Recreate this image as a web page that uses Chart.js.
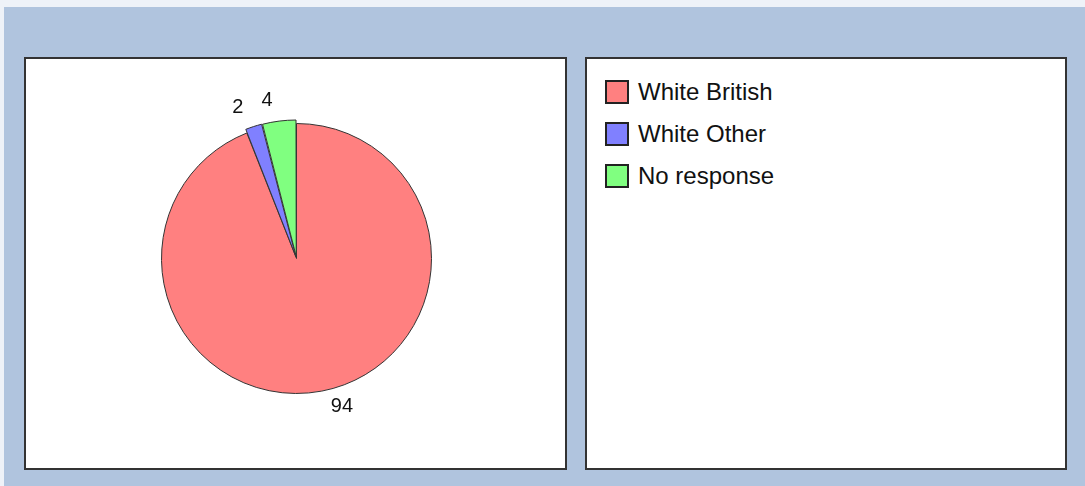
<!DOCTYPE html>
<html>
<head>
<meta charset="utf-8">
<script src="https://cdn.jsdelivr.net/npm/chart.js@4"></script>
<style>
  html, body { margin: 0; padding: 0; }
  body {
    width: 1085px; height: 486px; position: relative; overflow: hidden;
    background: #b0c4de;
    font-family: 'Liberation Sans', sans-serif;
  }
  .edge-top { position: absolute; left: 0; top: 0; width: 1085px; height: 7px; background: #eef2f8; }
  .edge-left { position: absolute; left: 0; top: 0; width: 4px; height: 486px; background: #eef2f8; }
  .panel {
    position: absolute; background: #fff; box-sizing: border-box;
    border: 2px solid #333;
  }
  #pie-panel { left: 24px; top: 57px; width: 543px; height: 413px; }
  #legend-panel { left: 585px; top: 57px; width: 482px; height: 413px; }
  #pie-wrap { position: absolute; left: 0; top: 0; width: 539px; height: 409px; }
  .legend-item { position: absolute; left: 18px; height: 26px; display: flex; align-items: center; font-size: 24px; color: #111; }
  .legend-box { box-sizing: border-box; width: 24px; height: 24px; border: 2px solid #222; margin-right: 9px; }
</style>
</head>
<body>
<div class="edge-top"></div>
<div class="edge-left"></div>
<div class="panel" id="pie-panel"><div id="pie-wrap"><canvas id="pie"></canvas></div></div>
<div class="panel" id="legend-panel"><div id="legend"></div></div>
<script>
  var categories = ['White British', 'White Other', 'No response'];
  var values = [94, 2, 4];
  var sliceColors = ['#ff8080', '#8080ff', '#80ff80'];
  var explode = [0, 8, 8];

  // value labels just outside each slice, pushed away from the centre line
  var outsideLabels = {
    id: 'outsideLabels',
    afterDatasetsDraw: function (chart) {
      var ctx = chart.ctx;
      var meta = chart.getDatasetMeta(0);
      ctx.save();
      ctx.font = '20px "Liberation Sans", sans-serif';
      ctx.fillStyle = '#111';
      ctx.textBaseline = 'middle';
      meta.data.forEach(function (arc, i) {
        var p = arc.getProps(['x', 'y', 'startAngle', 'endAngle', 'outerRadius'], true);
        var mid = (p.startAngle + p.endAngle) / 2;
        var r = p.outerRadius + explode[i] + 16;
        var cos = Math.cos(mid), sin = Math.sin(mid);
        var x = p.x + cos * r;
        var y = p.y + sin * r;
        if (cos >= 0) {
          ctx.textAlign = 'left';
          x += 6;
        } else {
          ctx.textAlign = 'right';
          x -= 4;
        }
        ctx.fillText(String(values[i]), x, y);
      });
      ctx.restore();
    }
  };

  new Chart(document.getElementById('pie'), {
    type: 'pie',
    data: {
      labels: categories,
      datasets: [{
        data: values,
        backgroundColor: sliceColors,
        borderColor: '#333',
        borderWidth: 1,
        offset: explode,
        hoverOffset: 0
      }]
    },
    options: {
      responsive: true,
      maintainAspectRatio: false,
      animation: false,
      radius: 135,
      layout: { padding: { left: 2, right: 0, top: 0, bottom: 10 } },
      plugins: {
        legend: { display: false },
        tooltip: { enabled: false }
      }
    },
    plugins: [outsideLabels]
  });

  var legendEl = document.getElementById('legend');
  categories.forEach(function (name, i) {
    var item = document.createElement('div');
    item.className = 'legend-item';
    item.style.top = (20 + i * 42) + 'px';
    var box = document.createElement('span');
    box.className = 'legend-box';
    box.style.background = sliceColors[i];
    var txt = document.createElement('span');
    txt.textContent = name;
    item.appendChild(box);
    item.appendChild(txt);
    legendEl.appendChild(item);
  });
</script>
</body>
</html>
